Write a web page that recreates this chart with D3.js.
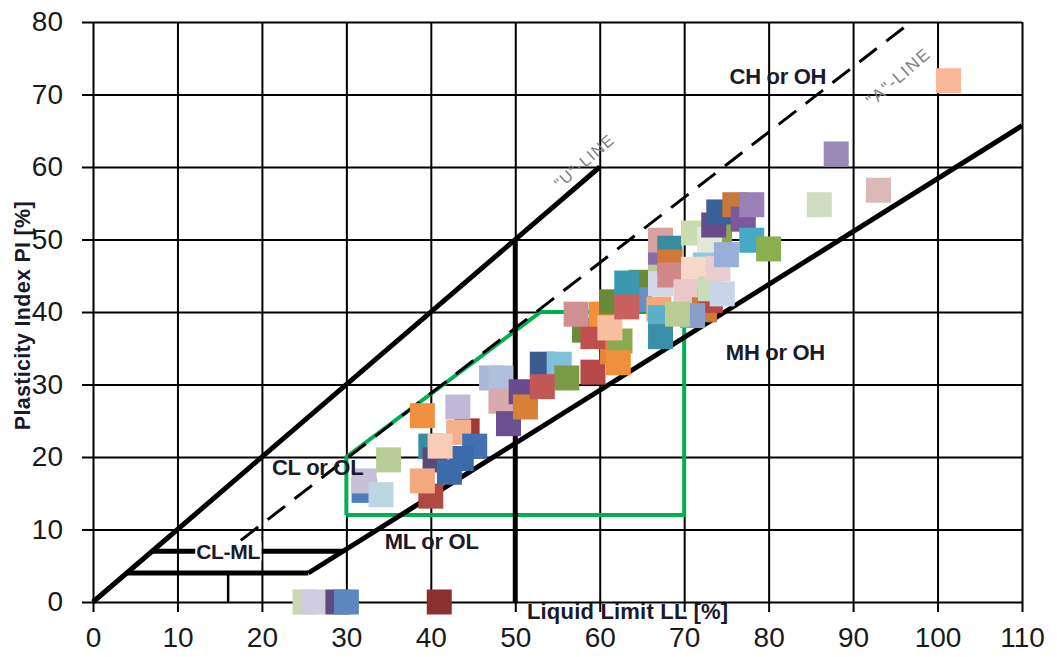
<!DOCTYPE html>
<html>
<head>
<meta charset="utf-8">
<script src="https://cdn.jsdelivr.net/npm/d3@7"></script>
<style>
  body { margin: 0; background: #fff; }
  text { font-family: "Liberation Sans", Arial, sans-serif; }
</style>
</head>
<body>
<div id="chart"></div>
<script>
// DATA: liquid limit / plasticity index of the samples (draw order)
const liquidLimit = [
  25.1, 26.1, 29.0, 30.0, 41.0,
  32.1, 32.1, 34.1, 35.0, 39.0, 40.0, 40.5, 40.0, 39.0, 44.3, 43.2, 43.3, 45.2, 43.6, 41.1, 42.2,
  47.2, 48.3, 48.3, 49.2, 50.7, 51.2, 53.2, 55.2, 56.1, 53.2,
  59.2, 61.5, 62.4, 62.2, 58.2, 59.2, 60.2, 61.2, 61.4, 57.2, 64.9, 64.7, 63.2, 63.2,
  67.2, 67.2, 67.2, 67.2, 67.0, 67.2, 67.2, 68.3, 68.3, 68.3,
  74.2, 71.1, 73.0, 71.1, 72.5, 71.1, 70.2, 72.4, 73.1, 73.1, 74.5, 71.0, 69.2, 74.0, 75.0,
  73.5, 74.1, 76.0, 77.0, 78.0, 78.0, 80.0,
  86.0, 88.0, 93.0, 101.3
];
const plasticityIndex = [
  0, 0, 0, 0, 0,
  15.4, 16.7, 14.8, 19.6, 25.7, 21.5, 19.6, 14.6, 16.7, 23.6, 26.9, 23.4, 21.5, 19.8, 21.5, 17.9,
  30.9, 30.9, 27.7, 24.6, 29.0, 26.9, 32.8, 32.8, 30.9, 29.7,
  31.7, 34.5, 36.0, 33.0, 37.5, 36.6, 39.7, 37.8, 41.4, 39.7, 44.1, 41.7, 44.0, 40.7,
  49.9, 46.5, 44.8, 43.9, 40.4, 39.2, 36.6, 48.8, 46.9, 45.1,
  50.5, 50.9, 50.0, 43.0, 46.5, 45.9, 42.8, 40.3, 41.6, 43.2, 42.5, 39.5, 39.7, 46.0, 47.9,
  52.0, 53.8, 54.8, 52.8, 54.8, 49.9, 48.7,
  54.8, 61.8, 56.8, 71.9
];

// reference lines of the plasticity chart [LL, PI]
const uLine = [[0, 0], [60, 60]];
const aLineSolid = [[25.5, 4], [110, 65.7]];
const aLineDashed = [[17.5, 8.5], [96.2, 79.4]];
const clmlLow = [[4, 4], [25.5, 4]];
const clmlHigh = [[7, 7], [29.6, 7]];
const clmlTick = [[16, 0], [16, 4]];
const llFifty = [[50, 0], [50, 50]];
const studyZone = [[30, 12], [30, 20], [53, 40], [70, 40], [70, 12], [30, 12]];

const xTicks = d3.range(0, 111, 10);
const yTicks = d3.range(0, 81, 10);

const zoneLabels = [
  { text: "CH or OH", ll: 81.1, pi: 72.5 },
  { text: "MH or OH", ll: 80.8, pi: 34.5 },
  { text: "CL or OL", ll: 26.6, pi: 18.6 },
  { text: "ML or OL", ll: 40.1, pi: 8.4 },
  { text: "CL-ML", ll: 16.0, pi: 7.0 }
];

// styles
const palette = [
  "#c8d8b0", "#d0cce0", "#5c4a80", "#5b86be", "#8a3030",
  "#4a7ec0", "#c8c0d8", "#bcd6e2", "#b8cc98", "#f09040", "#3a8ca4", "#5a4a7a", "#b04844", "#f4a880", "#a03838", "#c0b8d4", "#f4b08a", "#4270b0", "#3a6aaa", "#f8cdb8", "#3d6aa8",
  "#a8b8d8", "#b0c0dc", "#d8aaaa", "#6a5090", "#6a4a8a", "#d88038", "#3a5c90", "#80c0d8", "#7a9a48", "#c05858",
  "#b84848", "#e08838", "#8aaa50", "#f0903c", "#6a8a38", "#c05050", "#f0903c", "#f8c0a0", "#6a8a38", "#d09090", "#6a8a38", "#6890c8", "#3a98b0", "#c86060",
  "#d8a0a0", "#8a6aaa", "#b8cc94", "#d0d8e8", "#f4a878", "#58b0c8", "#3a8ea8", "#3a8aa0", "#d07838", "#d08888",
  "#8aaa50", "#c8dcb0", "#e0e8d8", "#c8e0e8", "#90c8e0", "#f8d8c8", "#e8c8c8", "#d07838", "#b84848", "#c8dcb8", "#c8d4e8", "#8aa0c8", "#b8cc94", "#e8cece", "#98b0d8",
  "#6a4a8a", "#3a6098", "#c87838", "#7a5a9a", "#9a80b8", "#48a8c8", "#8ab050",
  "#d0dcc0", "#9a88b8", "#dcb8b8", "#f8b898"
];

const margin = { top: 22, right: 35, bottom: 55, left: 93 };
const width = 1057 - margin.left - margin.right;
const height = 657 - margin.top - margin.bottom;

const svg = d3.select("#chart").append("svg")
    .attr("width", 1057)
    .attr("height", 657)
    .append("g")
    .attr("transform", `translate(${margin.left},${margin.top})`);

const x = d3.scaleLinear().domain([0, 110]).range([0, width]);
const y = d3.scaleLinear().domain([0, 80]).range([height, 0]);
const color = d3.scaleOrdinal().domain(d3.range(palette.length)).range(palette);

// GRID
svg.append("g")
    .call(d3.axisBottom(x).tickValues(xTicks).tickSize(height).tickFormat(""))
    .call(g => g.select(".domain").remove())
    .selectAll("line").attr("stroke", "#000").attr("stroke-width", 2);

svg.append("g")
    .call(d3.axisRight(y).tickValues(yTicks).tickSize(width).tickFormat(""))
    .call(g => g.select(".domain").remove())
    .selectAll("line").attr("stroke", "#000").attr("stroke-width", 2);

// AXES
const xAxis = svg.append("g")
    .attr("transform", `translate(0,${height})`)
    .call(d3.axisBottom(x).tickValues(xTicks).tickSize(10).tickPadding(15));
const yAxis = svg.append("g")
    .call(d3.axisLeft(y).tickValues(yTicks).tickSize(11).tickPadding(19));

[xAxis, yAxis].forEach(g => {
    g.select(".domain").remove();
    g.selectAll("line").attr("stroke", "#000").attr("stroke-width", 2);
    g.selectAll("text")
        .attr("fill", "#1a1a1a")
        .style("font-size", "28px")
        .style("font-family", "'Liberation Sans', Arial, sans-serif");
});

// REFERENCE LINES
const line = d3.line().x(d => x(d[0])).y(d => y(d[1]));

svg.append("path").datum(studyZone)
    .attr("d", line).attr("fill", "none")
    .attr("stroke", "#00b050").attr("stroke-width", 4)
    .attr("stroke-linejoin", "miter");

[uLine, aLineSolid, clmlLow, clmlHigh, llFifty].forEach(seg => {
    svg.append("path").datum(seg)
        .attr("d", line).attr("fill", "none")
        .attr("stroke", "#000").attr("stroke-width", 5);
});

svg.append("path").datum(clmlTick)
    .attr("d", line).attr("fill", "none")
    .attr("stroke", "#000").attr("stroke-width", 2.5);

svg.append("path").datum(aLineDashed)
    .attr("d", line).attr("fill", "none")
    .attr("stroke", "#000").attr("stroke-width", 3)
    .attr("stroke-dasharray", "22,12");

// POINTS
const size = 25;
svg.selectAll(".pt")
    .data(liquidLimit.map((ll, i) => ({ ll, pi: plasticityIndex[i], i })))
    .enter()
    .append("rect")
    .attr("class", "pt")
    .attr("x", d => x(d.ll) - size / 2)
    .attr("y", d => y(d.pi) - size / 2)
    .attr("width", size)
    .attr("height", size)
    .attr("fill", d => color(d.i));

// ZONE LABELS
zoneLabels.forEach(d => {
    const t = svg.append("text")
        .attr("x", x(d.ll))
        .attr("y", y(d.pi))
        .attr("dy", "0.35em")
        .attr("text-anchor", "middle")
        .attr("font-weight", "bold")
        .attr("font-size", d.text === "CL-ML" ? "21px" : "22px")
        .attr("letter-spacing", "-0.3px")
        .attr("fill", "#1a1a2a")
        .text(d.text);
    if (d.text === "CL-ML") {
        const b = t.node().getBBox();
        svg.insert("rect", () => t.node())
            .attr("x", b.x - 1).attr("y", b.y + 2)
            .attr("width", b.width + 2).attr("height", b.height - 4)
            .attr("fill", "#fff");
    }
});

// LINE NAMES
svg.append("text")
    .attr("transform", `translate(${x(58.6)},${y(60.2)}) rotate(-41)`)
    .attr("text-anchor", "middle")
    .attr("font-size", "16px")
    .attr("letter-spacing", "1.2px")
    .attr("fill", "#808080")
    .text("\"U\"-LINE");

svg.append("text")
    .attr("transform", `translate(${x(95.8)},${y(71.8)}) rotate(-41)`)
    .attr("text-anchor", "middle")
    .attr("font-size", "17px")
    .attr("letter-spacing", "1.5px")
    .attr("fill", "#808080")
    .text("\"A\"-LINE");

// AXIS TITLES
svg.append("text")
    .attr("x", x(63.3))
    .attr("y", height + 17)
    .attr("text-anchor", "middle")
    .attr("font-weight", "bold")
    .attr("font-size", "22px")
    .attr("letter-spacing", "0.2px")
    .attr("fill", "#1a1a2a")
    .text("Liquid Limit LL [%]");

svg.append("text")
    .attr("transform", `translate(${-margin.left + 30},${y(39.5)}) rotate(-90)`)
    .attr("text-anchor", "middle")
    .attr("font-weight", "bold")
    .attr("font-size", "21.5px")
    .attr("letter-spacing", "0.3px")
    .attr("fill", "#1a1a2a")
    .text("Plasticity Index PI [%]");
</script>
</body>
</html>
